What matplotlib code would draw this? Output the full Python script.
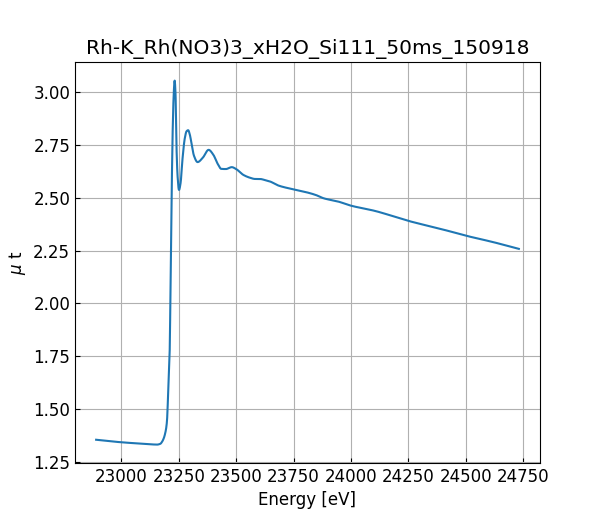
import matplotlib
matplotlib.use("Agg")
import matplotlib.pyplot as plt
import numpy as np

energy = [22890, 22950, 23000, 23050, 23100, 23133, 23155, 23170, 23177, 23185,
          23191, 23196, 23199, 23203, 23206, 23210, 23216, 23223, 23228, 23232,
          23236, 23239, 23245, 23251, 23258, 23266, 23276, 23284, 23291, 23298,
          23306, 23316, 23332, 23355, 23380, 23400, 23420, 23435, 23455, 23481,
          23500, 23532, 23560, 23583, 23604, 23622, 23648, 23684, 23749, 23814,
          23850, 23880, 23945, 23999, 24104, 24249, 24400, 24499, 24620, 24732]
mu = [1.354, 1.347, 1.342, 1.338, 1.334, 1.332, 1.331, 1.335, 1.344, 1.362,
      1.385, 1.415, 1.448, 1.550, 1.640, 1.750, 2.250, 2.790, 2.990, 3.055,
      2.990, 2.790, 2.600, 2.537, 2.570, 2.680, 2.780, 2.815, 2.820, 2.800,
      2.755, 2.700, 2.669, 2.690, 2.727, 2.705, 2.660, 2.637, 2.636, 2.645,
      2.636, 2.608, 2.595, 2.589, 2.589, 2.585, 2.577, 2.558, 2.540, 2.524,
      2.512, 2.498, 2.482, 2.463, 2.438, 2.391, 2.350, 2.321, 2.290, 2.258]

title = "Rh-K_Rh(NO3)3_xH2O_Si111_50ms_150918"
xlabel = "Energy [eV]"
ylabel = r"$\mu$ t"

E = np.array(energy, dtype=float)
M = np.array(mu, dtype=float)

def pchip(x, y, xi):
    h = np.diff(x); d = np.diff(y) / h
    m = np.zeros_like(y)
    for k in range(1, len(x) - 1):
        if d[k-1] * d[k] > 0:
            w1 = 2*h[k] + h[k-1]; w2 = h[k] + 2*h[k-1]
            m[k] = (w1 + w2) / (w1/d[k-1] + w2/d[k])
    m[0] = d[0]; m[-1] = d[-1]
    idx = np.clip(np.searchsorted(x, xi) - 1, 0, len(x) - 2)
    t = (xi - x[idx]) / h[idx]
    h00 = 2*t**3 - 3*t**2 + 1; h10 = t**3 - 2*t**2 + t
    h01 = -2*t**3 + 3*t**2; h11 = t**3 - t**2
    return h00*y[idx] + h10*h[idx]*m[idx] + h01*y[idx+1] + h11*h[idx]*m[idx+1]

xi = np.linspace(E[0], E[-1], 3000)
yi = pchip(E, M, xi)

fig, ax = plt.subplots(figsize=(6, 5.2), dpi=100)
ax.plot(xi, yi, color="#1f77b4", lw=1.5)
ax.set_title(title, fontsize=14.5)
ax.set_xlabel(xlabel, fontsize=12)
ax.set_ylabel(ylabel, fontsize=12)
ax.grid(True)
ax.tick_params(direction="in", labelsize=12)
ax.set_xticks([23000, 23250, 23500, 23750, 24000, 24250, 24500, 24750])
fig.savefig("out.png", dpi=100)
